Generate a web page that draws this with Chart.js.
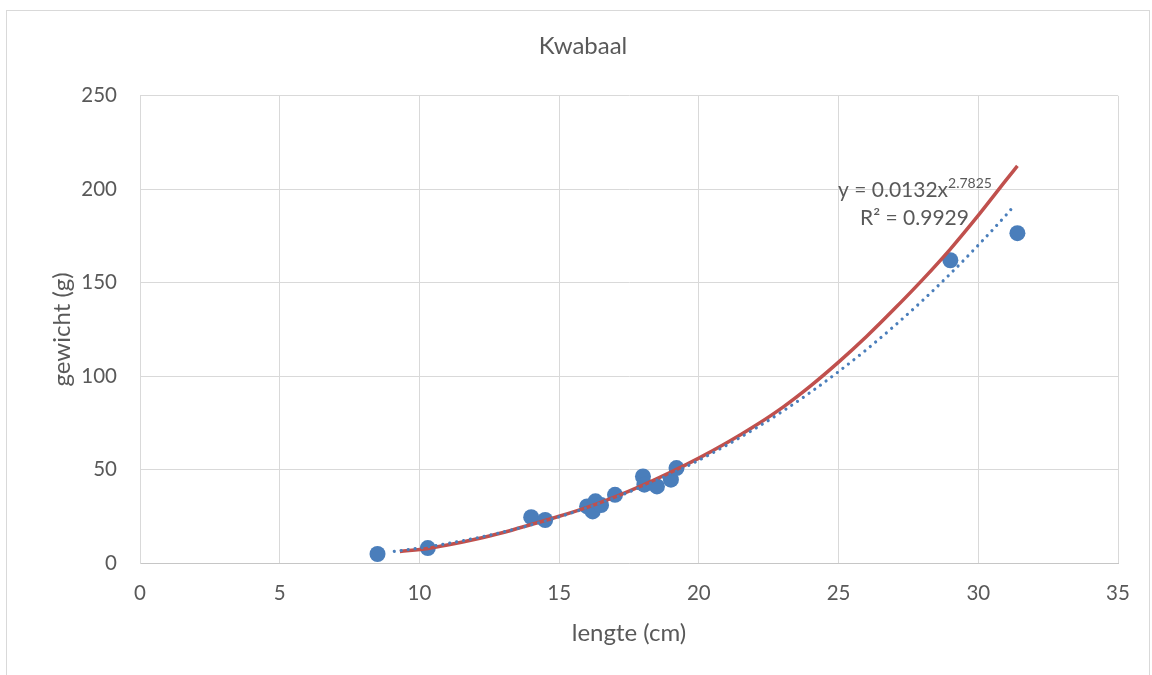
<!DOCTYPE html>
<html>
<head>
<meta charset="utf-8">
<script src="https://cdn.jsdelivr.net/npm/chart.js@4.4.1/dist/chart.umd.min.js"></script>
<style>
  html, body { margin: 0; padding: 0; background: #ffffff; }
  #wrap { width: 1152px; height: 675px; position: relative; }
</style>
</head>
<body>
<div id="wrap"><canvas id="c" width="1152" height="675"></canvas></div>
<script>
// ---- data ----
const chartTitle = "Kwabaal";
const xAxisTitle = "lengte (cm)";
const yAxisTitle = "gewicht (g)";

// measured fish: length (cm) and weight (g)
const lengthCm = [8.5, 10.3, 14.0, 14.5, 16.0, 16.2, 16.3, 16.5, 17.0, 18.0, 18.05, 18.5, 19.0, 19.2, 29.0, 31.4];
const weightG  = [4.8, 8.0, 24.5, 23.0, 30.3, 27.6, 33.0, 31.0, 36.5, 46.3, 41.9, 41.0, 44.6, 50.8, 162.0, 176.5];

// red solid curve
const redCurveX = [9.3, 10.3, 11, 12, 13, 14, 15, 16, 17, 18, 19, 20, 21, 22, 23, 24, 25, 26, 27, 28, 29, 30, 31, 31.4];
const redCurveY = [6.1, 7.8, 9.6, 12.7, 16.3, 20.6, 25.0, 29.8, 35.4, 41.7, 48.6, 56.1, 64.3, 73.3, 83.3, 94.8, 107.5, 121.2, 136.0, 151.5, 168.0, 186.0, 205.0, 212.5];

// blue dotted power trendline
const trendX = [9.1, 10, 11, 12, 13, 14, 15, 16, 17, 18, 19, 20, 21, 22, 23, 24, 25, 26, 27, 28, 29, 30, 31, 31.3];
const trendY = [6.2, 8.0, 10.4, 13.3, 16.6, 20.4, 24.7, 29.6, 35.0, 41.1, 47.7, 55.0, 63.1, 71.8, 81.2, 91.4, 102.4, 114.2, 126.9, 140.4, 154.8, 170.1, 186.3, 191.5];

// trendline label
const eqMain = "y = 0.0132x";
const eqExp = "2.7825";
const eqR2 = "R\u00B2 = 0.9929";

// axis ticks
const xMin = 0, xMax = 35, xStep = 5;
const yMin = 0, yMax = 250, yStep = 50;

const toPts = (xs, ys) => xs.map((x, i) => ({ x: x, y: ys[i] }));

const FONT = 'Lato, "Open Sans", "Liberation Sans", sans-serif';
const TXT = '#595959';
const GRID = '#d9d9d9';
const BLUE = '#4A7EBB';
const RED = '#C0504D';

const framePlugin = {
  id: 'frame',
  beforeDraw(chart) {
    const ctx = chart.ctx;
    ctx.save();
    ctx.fillStyle = '#ffffff';
    ctx.fillRect(0, 0, chart.width, chart.height);
    ctx.strokeStyle = GRID;
    ctx.lineWidth = 1;
    ctx.strokeRect(6.5, 10.5, 1143, 680);
    ctx.restore();
  }
};

const eqPlugin = {
  id: 'eqlabel',
  afterDraw(chart) {
    const ctx = chart.ctx;
    const area = chart.chartArea;
    ctx.save();
    ctx.fillStyle = TXT;
    ctx.textBaseline = 'alphabetic';
    ctx.textAlign = 'left';
    const x0 = area.right - 280;
    const y0 = area.top + 101;
    ctx.font = '21px ' + FONT;
    ctx.fillText(eqMain, x0, y0);
    const w = ctx.measureText(eqMain).width;
    ctx.font = '14px ' + FONT;
    ctx.fillText(eqExp, x0 + w, y0 - 9);
    ctx.font = '21px ' + FONT;
    ctx.fillText(eqR2, x0 + 22, y0 + 28);
    ctx.restore();
  }
};

new Chart(document.getElementById('c'), {
  type: 'scatter',
  data: {
    datasets: [
      {
        label: 'trend',
        data: toPts(trendX, trendY),
        showLine: true,
        borderColor: BLUE,
        borderWidth: 3.2,
        borderDash: [0.01, 7],
        borderCapStyle: 'round',
        pointRadius: 0,
        cubicInterpolationMode: 'monotone',
        fill: false
      },
      {
        label: 'fit',
        data: toPts(redCurveX, redCurveY),
        showLine: true,
        borderColor: RED,
        borderWidth: 3.5,
        pointRadius: 0,
        cubicInterpolationMode: 'monotone',
        fill: false
      },
      {
        label: 'gewicht',
        data: toPts(lengthCm, weightG),
        showLine: false,
        backgroundColor: BLUE,
        borderWidth: 0,
        pointRadius: 8,
        pointHoverRadius: 8
      }
    ]
  },
  options: {
    responsive: false,
    animation: false,
    layout: { padding: { left: 48, right: 34, top: 10, bottom: 27 } },
    plugins: {
      legend: { display: false },
      tooltip: { enabled: false },
      title: {
        display: true,
        text: chartTitle,
        color: TXT,
        font: { family: FONT, size: 24, weight: 'normal' },
        padding: { top: 22, bottom: 35 }
      }
    },
    scales: {
      x: {
        type: 'linear',
        min: xMin, max: xMax,
        ticks: { stepSize: xStep, color: TXT, font: { family: FONT, size: 20.5 }, padding: 18, maxRotation: 0 },
        grid: { color: GRID, lineWidth: 1, drawTicks: false },
        border: { color: '#c6c6c6', width: 1 },
        title: { display: true, text: xAxisTitle, color: TXT, font: { family: FONT, size: 24 }, padding: 0 },
        afterFit(scale) { scale.height = 85; }
      },
      y: {
        type: 'linear',
        min: yMin, max: yMax,
        ticks: { stepSize: yStep, color: TXT, font: { family: FONT, size: 20.5 }, padding: 23 },
        grid: { color: GRID, lineWidth: 1, drawTicks: false },
        border: { color: GRID, width: 1 },
        title: { display: true, text: yAxisTitle, color: TXT, font: { family: FONT, size: 24 }, padding: 0 },
        afterFit(scale) { scale.width = 92; }
      }
    }
  },
  plugins: [framePlugin, eqPlugin]
});
</script>
</body>
</html>
